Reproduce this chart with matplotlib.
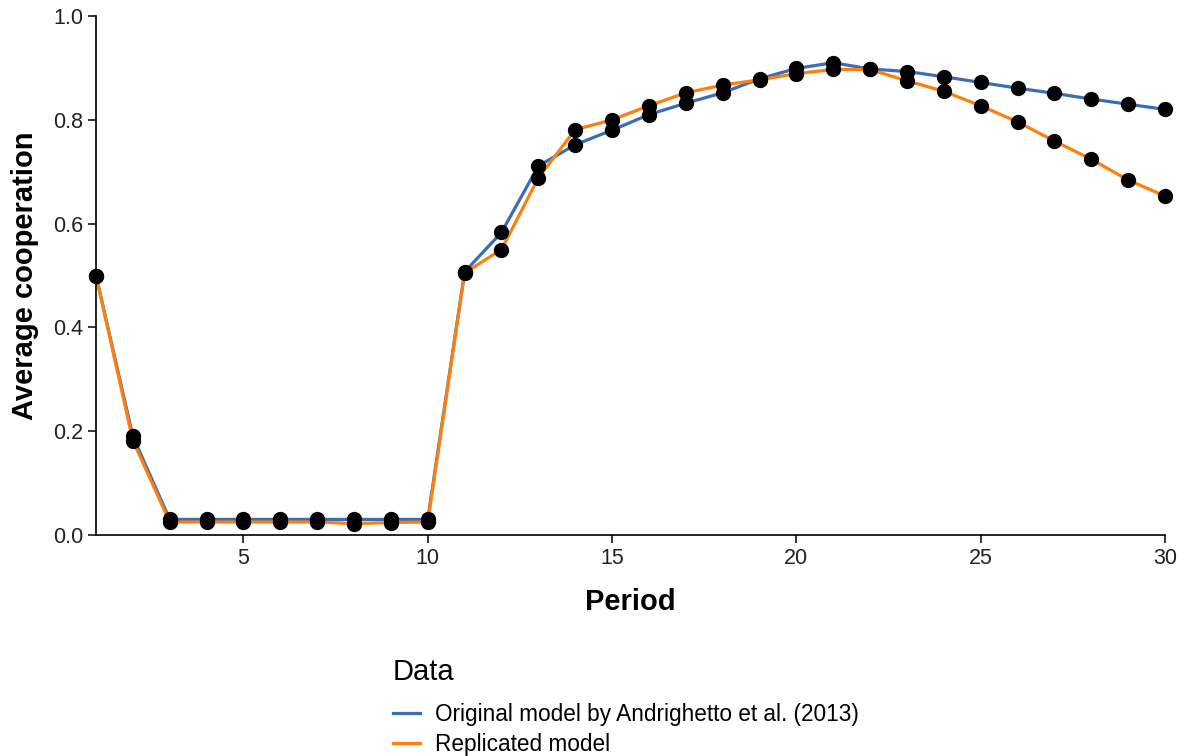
import matplotlib
matplotlib.use("Agg")
import matplotlib.pyplot as plt
from matplotlib.lines import Line2D

plt.rcParams['font.family'] = ['Liberation Sans', 'DejaVu Sans']

periods = list(range(1, 31))
original = [0.50, 0.19, 0.03, 0.03, 0.03, 0.03, 0.03, 0.03, 0.03, 0.03,
            0.507, 0.583, 0.711, 0.752, 0.780, 0.810, 0.832, 0.852, 0.879, 0.899,
            0.910, 0.898, 0.893, 0.883, 0.872, 0.861, 0.851, 0.840, 0.830, 0.820]
replicated = [0.50, 0.182, 0.025, 0.025, 0.025, 0.025, 0.025, 0.022, 0.024, 0.025,
              0.505, 0.550, 0.688, 0.781, 0.800, 0.827, 0.852, 0.867, 0.877, 0.889,
              0.897, 0.897, 0.875, 0.855, 0.827, 0.796, 0.759, 0.724, 0.684, 0.653]
series_names = ["Original model by Andrighetto et al. (2013)", "Replicated model"]
colors = ["#3B6DB3", "#FF7F0E"]
x_ticks = [5, 10, 15, 20, 25, 30]
y_ticks = [0.0, 0.2, 0.4, 0.6, 0.8, 1.0]

fig = plt.figure(figsize=(11.85, 7.56), dpi=100)
ax = fig.add_axes([96/1185, 1 - 535/756, 1069/1185, 519/756])

for vals, col in zip([original, replicated], colors):
    ax.plot(periods, vals, color=col, lw=2.3, zorder=2)
for vals in [original, replicated]:
    ax.plot(periods, vals, ls='none', marker='o', ms=10, color='black', zorder=3,
            clip_on=False)

ax.set_xlim(1, 30)
ax.set_ylim(0, 1.0)
ax.set_xticks(x_ticks)
ax.set_yticks(y_ticks)
ax.set_yticklabels([f"{v:.1f}" for v in y_ticks])
for s in ['top', 'right']:
    ax.spines[s].set_visible(False)
for s in ['left', 'bottom']:
    ax.spines[s].set_color('black')
    ax.spines[s].set_linewidth(1.2)
ax.tick_params(axis='both', direction='out', length=6, width=1.1, color='black',
               labelsize=15.5, labelcolor='#222222', pad=3)

ax.set_xlabel("Period", fontsize=21, fontweight='bold', labelpad=14)
ax.set_ylabel("Average cooperation", fontsize=21, fontweight='bold', labelpad=10)

handles = [Line2D([0], [0], color=c, lw=2.3) for c in colors]
leg = fig.legend(handles, series_names, title="Data", loc='upper left',
                 bbox_to_anchor=(377/1185, 1 - 642/756), frameon=False,
                 fontsize=16.3, title_fontsize=21, handlelength=1.2,
                 handletextpad=0.68, labelspacing=0.33, borderpad=0.2)
leg._legend_box.align = "left"
leg._legend_box.sep = 12

fig.savefig("out.png", dpi=100)
